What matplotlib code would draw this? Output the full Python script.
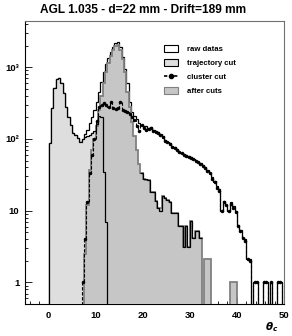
import numpy as np
import matplotlib
matplotlib.use("Agg")
import matplotlib.pyplot as plt
from matplotlib.patches import Patch
from matplotlib.lines import Line2D
from matplotlib.ticker import FixedLocator, NullFormatter

plt.rcParams["font.family"] = ["Liberation Sans", "DejaVu Sans"]
plt.rcParams["font.weight"] = "bold"

# ── Data (theta_c bins of 0.5) ────────────────────────────────────────────────
BIN = 0.5

raw_start = 0.0
raw_counts = [
    88, 270, 510, 680, 705, 600, 435, 278, 203, 156,            # 0 - 5
    121, 113, 103, 91, 100, 118, 135, 165, 200, 250,            # 5 - 10
    330, 450, 620, 850, 1100, 1350, 1620, 1900, 2150, 2240,     # 10 - 15
    1900, 1400, 950, 600, 330, 240, 210, 190, 165, 158,         # 15 - 20
    150, 152, 140, 145, 134, 128, 124, 118, 110, 97,            # 20 - 25
    92, 88, 80, 76, 72, 66, 64, 61, 60, 57,                     # 25 - 30
    56, 53, 50, 48, 46, 43, 40, 37, 34, 29,                     # 30 - 35
    26, 22, 20, 10, 13.5, 12, 10, 13, 11.5, 10,                 # 35 - 40
    6.4, 5.4, 4.2, 4, 2.1, 2.1, 0, 1, 1, 0,                     # 40 - 45
    0, 1, 1, 0, 1, 0, 0, 1, 1, 0,                               # 45 - 50
]

traj_start = 0.0
traj_counts = [
    88, 270, 510, 680, 705, 600, 435, 278, 203, 156,
    121, 113, 103, 91, 100, 105, 110, 115, 120, 130,
    160, 210, 200, 35, 7, 0,
]

# trajectory-cut outline seen over the after-cuts tail
traj_tail_start = 19.5
traj_tail_counts = [
    34, 28, 28, 27, 18, 18, 13.5, 11, 10, 16,
    15, 14, 13, 9.4, 9.4, 9.4, 6.1, 6.1, 3.1, 6.1,
    3.1, 7.1, 4.2, 5.2, 5.2, 4.2,
]

after_start = 7.0
after_counts = [
    0, 2.5, 12, 37, 70, 100, 150, 250, 400, 600,                # 7 - 12
    850, 1150, 1450, 1750, 1950, 2050, 1750, 1300, 850, 450,    # 12 - 17
    280, 170, 110, 70, 45, 34, 28, 27, 27, 18,                  # 17 - 22
    18, 13.5, 11, 11, 16, 15, 14, 13, 9.4, 9.4,                 # 22 - 27
    9.4, 6.1, 6.1, 3.1, 6.1, 3.1, 7.1, 4.2, 5.2, 5.2,           # 27 - 32
    4.2, 0, 2.1, 2.1, 2.1, 0, 0, 0, 0, 0,                       # 32 - 37
    0, 0, 0, 1, 1, 1, 0,                                        # 37 - 40.5
]

clus_start = 7.0
clus_counts = [
    1, 4, 13, 33, 60, 100, 180, 280, 300, 320,                  # 7 - 12
    300, 280, 330, 270, 260, 270, 330, 250, 245, 235,           # 12 - 17
    220, 200, 185, 150, 130, 155, 140, 135, 138, 140,           # 17 - 22
    130, 125, 120, 115, 105, 95, 90, 85, 78, 74,                # 22 - 27
    70, 65, 63, 60, 58, 56, 54, 52, 49, 47,                     # 27 - 32
    45, 42, 39, 36, 33, 28, 25, 21, 19, 10,                     # 32 - 37
    13, 12, 10, 12.5, 11, 9.5, 6.2, 5.2, 4.1, 3.8,              # 37 - 42
    2.1, 2, 0, 1, 1, 0, 0, 1, 1, 0,                             # 42 - 47
    1, 0, 0, 1, 1, 0,                                           # 47 - 50
]

title = "AGL 1.035 - d=22 mm - Drift=189 mm"
legend_labels = ["raw datas", "trajectory cut", "cluster cut", "after cuts"]
ytick_vals = [1, 10, 100, 1000]
ytick_labels = ["1", "10", "10\u00b2", "10\u00b3"]
xtick_vals = [0, 10, 20, 30, 40, 50]

YMIN, YMAX = 0.5, 4400
FLOOR = 0.3  # zero bins drawn below the axis


def edges_for(start, counts):
    return start + BIN * np.arange(len(counts) + 1)


def floor(counts):
    c = np.asarray(counts, dtype=float)
    return np.where(c > 0, c, FLOOR)


# ── Figure ────────────────────────────────────────────────────────────────────
fig = plt.figure(figsize=(2.92, 3.36), dpi=100)
ax = fig.add_axes([25 / 292, 32 / 336, 259 / 292, 283 / 336])
ax.set_yscale("log")

LIGHT = "#dedede"
MID = "#c6c6c6"
GREY_LINE = "#808080"

e_raw = edges_for(raw_start, raw_counts)
e_traj = edges_for(traj_start, traj_counts)
e_tail = edges_for(traj_tail_start, traj_tail_counts)
e_after = edges_for(after_start, after_counts)
e_clus = edges_for(clus_start, clus_counts)

# raw data: white fill, black outline
ax.stairs(floor(raw_counts), e_raw, baseline=FLOOR, fill=True, color="white", zorder=1)
ax.stairs(floor(raw_counts), e_raw, baseline=FLOOR, color="black", lw=0.9, zorder=2)

# trajectory cut fill
ax.stairs(floor(traj_counts), e_traj, baseline=FLOOR, fill=True, color=LIGHT, zorder=3)

# after cuts
ax.stairs(floor(after_counts), e_after, baseline=FLOOR, fill=True, color=MID, zorder=4)
ax.stairs(floor(after_counts), e_after, baseline=FLOOR, color=GREY_LINE, lw=1.3, zorder=5)

# trajectory cut outline on top
ax.stairs(floor(traj_counts), e_traj, baseline=FLOOR, color="black", lw=0.9, zorder=6)
ax.stairs(traj_tail_counts, e_tail, baseline=None, color="black", lw=0.9, zorder=6)

# cluster cut: dashed histogram with markers
ax.stairs(floor(clus_counts), e_clus, baseline=FLOOR, color="black", lw=0.8,
          ls=(0, (3, 1.5)), zorder=7)
c_cent = 0.5 * (e_clus[:-1] + e_clus[1:])
c_vals = np.asarray(clus_counts, dtype=float)
ok = c_vals > 0
ax.plot(c_cent[ok], c_vals[ok], ls="none", marker="o", ms=1.5, color="black", zorder=8)

ax.set_xlim(-5, 50)
ax.set_ylim(YMIN, YMAX)

# ticks, ROOT style (inside)
ax.xaxis.set_major_locator(FixedLocator(xtick_vals))
ax.xaxis.set_minor_locator(FixedLocator(np.arange(-4, 50, 2)))
ax.set_xticklabels([str(v) for v in xtick_vals])
ax.yaxis.set_major_locator(FixedLocator(ytick_vals))
minors = [m * 10 ** d for d in range(-1, 4) for m in range(2, 10)]
ax.yaxis.set_minor_locator(FixedLocator(minors))
ax.yaxis.set_minor_formatter(NullFormatter())
ax.set_yticklabels(ytick_labels)
ax.tick_params(which="both", direction="in", top=False, right=False,
               labelsize=6.8, pad=4, width=0.6)
ax.tick_params(which="major", length=5)
ax.tick_params(which="minor", length=2.5)
ax.tick_params(axis="x", pad=5)

for s in ["left", "bottom"]:
    ax.spines[s].set_color("black")
    ax.spines[s].set_linewidth(0.8)
for s in ["top", "right"]:
    ax.spines[s].set_color("#707070")
    ax.spines[s].set_linewidth(0.8)

fig.text(272 / 292, 1 - 327 / 336, r"$\theta_c$", ha="center", va="center",
         fontsize=7.5)

fig.text(143 / 292, 1 - 10 / 336, title, ha="center", va="center",
         fontsize=8.6, fontweight="bold")

handles = [
    Patch(facecolor="white", edgecolor="black", lw=0.8),
    Patch(facecolor=LIGHT, edgecolor="black", lw=0.8),
    Line2D([], [], color="black", ls=(0, (2, 1)), marker="o", ms=3, lw=1.2),
    Patch(facecolor=MID, edgecolor=GREY_LINE, lw=0.8),
]
ax.legend(handles, legend_labels, loc="upper left", bbox_to_anchor=(0.525, 0.925),
          frameon=False, fontsize=5.6, handlelength=1.8, handleheight=1.0,
          labelspacing=0.75, handletextpad=1.2, borderaxespad=0)

fig.savefig("out.png", dpi=100)
